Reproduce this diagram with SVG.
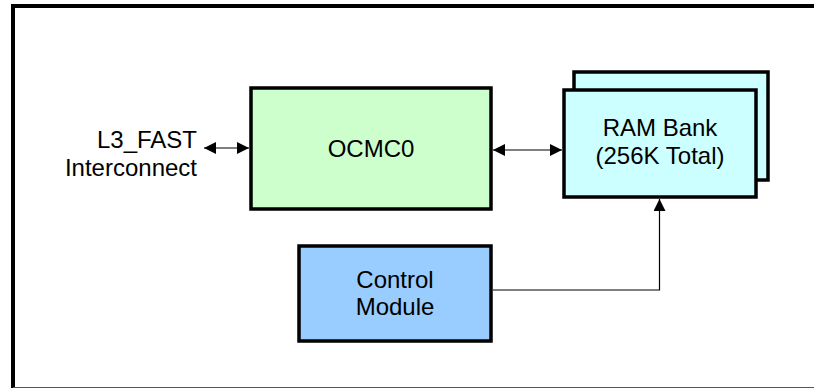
<svg xmlns="http://www.w3.org/2000/svg" width="814" height="388" viewBox="0 0 814 388">
<style>
.box{stroke:#000;stroke-width:3.5}
.t{font-family:"Liberation Sans",Arial,sans-serif;font-size:24px;fill:#000;text-anchor:middle}
.c{fill:none;stroke:#000;stroke-width:1.2}
</style>
<defs>
<marker id="ah" viewBox="0 0 12 12" refX="12" refY="6" markerWidth="12" markerHeight="12" markerUnits="userSpaceOnUse" orient="auto-start-reverse">
<path d="M0,0 L12,6 L0,12 Z" fill="#000"/>
</marker>
</defs>
<rect width="814" height="388" fill="#fff"/>
<g id="frame">
<path d="M13,388 V6 H814" fill="none" stroke="#000" stroke-width="4"/>
<line x1="13" y1="387.5" x2="814" y2="387.5" stroke="#555" stroke-width="1"/>
</g>
<g id="l3fast">
<text class="t" x="197" y="148" style="text-anchor:end">L3_FAST</text>
<text class="t" x="197" y="175.5" style="text-anchor:end">Interconnect</text>
</g>
<g id="ocmc0">
<rect class="box" x="251" y="88" width="240" height="121" fill="#CCFFCC"/>
<text class="t" x="371" y="157">OCMC0</text>
</g>
<g id="rambank">
<rect class="box" x="574" y="72" width="194" height="108" fill="#CCFFFF"/>
<rect class="box" x="564" y="90" width="192" height="107" fill="#CCFFFF"/>
<text class="t" x="660" y="136">RAM Bank</text>
<text class="t" x="660" y="163.5">(256K Total)</text>
</g>
<g id="control">
<rect class="box" x="299" y="246" width="192" height="95" fill="#99CCFF"/>
<text class="t" x="395" y="288">Control</text>
<text class="t" x="395" y="314.5">Module</text>
</g>
<g id="connectors">
<line class="c" x1="204" y1="148" x2="249" y2="148" marker-start="url(#ah)" marker-end="url(#ah)"/>
<line class="c" x1="493" y1="150" x2="562" y2="150" marker-start="url(#ah)" marker-end="url(#ah)"/>
<path class="c" d="M493,290 H659.5 V199" marker-end="url(#ah)"/>
</g>
</svg>
